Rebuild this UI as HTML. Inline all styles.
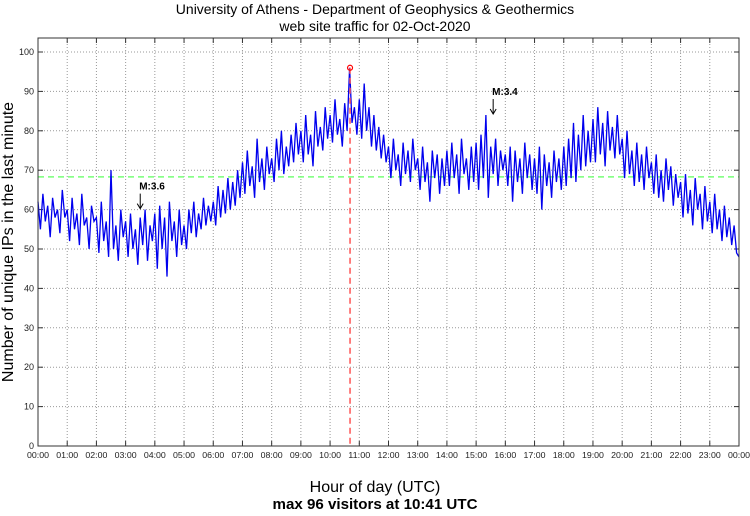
<!DOCTYPE html>
<html><head><meta charset="utf-8"><style>
body{margin:0;background:#fff;}
svg text{font-family:"Liberation Sans",sans-serif;}
</style></head><body>
<svg id="chart" width="750" height="511" xmlns="http://www.w3.org/2000/svg">
<text x="375" y="14" text-anchor="middle" font-size="14">University of Athens - Department of Geophysics &amp; Geothermics</text>
<text x="375" y="31" text-anchor="middle" font-size="14">web site traffic for 02-Oct-2020</text>
<text transform="translate(13,242) rotate(-90)" text-anchor="middle" font-size="16">Number of unique IPs in the last minute</text>
<text x="375" y="492" text-anchor="middle" font-size="16">Hour of day (UTC)</text>
<text x="375" y="509" text-anchor="middle" font-size="15" font-weight="bold" textLength="205" lengthAdjust="spacingAndGlyphs">max 96 visitors at 10:41 UTC</text>
<g id="grid"></g><g id="series"></g><g id="overlay"></g>
<rect x="38" y="38" width="701" height="408" fill="none" stroke="#333" stroke-width="1"/>
</svg>
<script>
const yTicks=[0,10,20,30,40,50,60,70,80,90,100];
const xTickLabels=["00:00","01:00","02:00","03:00","04:00","05:00","06:00","07:00","08:00","09:00","10:00","11:00","12:00","13:00","14:00","15:00","16:00","17:00","18:00","19:00","20:00","21:00","22:00","23:00","00:00"];
const visitors=[
62,55,64,57,61,53,63,58,60,54,65,58,
60,52,63,55,59,51,64,56,58,50,61,57,
58,49,62,52,57,48,70,50,56,47,60,53,
57,48,59,50,55,46,58,51,60,47,56,52,
59,45,61,50,58,43,62,52,57,48,60,51,
56,50,60,54,62,53,59,55,63,56,61,57,
62,56,66,58,65,59,68,60,67,61,70,63,
72,64,75,66,71,63,78,67,73,65,76,69,
73,67,78,70,80,69,76,71,79,72,82,74,
80,72,84,74,79,71,85,76,81,75,86,78,
84,77,88,79,83,76,87,80,96,82,86,79,
88,78,92,80,86,76,84,75,81,73,79,72,
76,68,78,70,74,66,77,69,75,67,78,70,
73,65,76,67,72,62,75,68,74,64,73,66,
75,66,77,68,74,64,78,69,73,65,76,67,
77,65,79,68,84,63,76,69,78,66,75,70,
74,66,76,62,75,67,73,64,77,68,74,65,
73,64,76,60,74,66,72,63,75,67,73,65,
76,66,78,68,82,67,79,70,84,71,80,72,
83,72,86,74,82,71,85,75,81,73,84,74,
78,68,80,69,75,66,77,67,74,65,76,68,
72,64,74,63,70,62,73,65,71,61,69,63,
67,58,69,59,65,56,68,60,64,55,66,57,
62,54,64,55,60,52,61,53,58,51,56,49,
48];
const stepMinutes=[5];
const average=[68.3];
const peak=[641,96];
const markers=[{label:"M:3.6",minute:210,value:60},{label:"M:3.4",minute:935,value:84}];
const NS="http://www.w3.org/2000/svg";
const X0=38,X1=739,Y0=446,PX=3.94;
function xs(m){return X0+(X1-X0)*m/1440;}
function ys(v){return Y0-v*PX;}
function mk(t,a,p){const e=document.createElementNS(NS,t);for(const k in a)e.setAttribute(k,a[k]);p.appendChild(e);return e;}
const grid=document.getElementById('grid'),series=document.getElementById('series'),ov=document.getElementById('overlay');
yTicks.forEach(v=>{
 const y=ys(v);
 if(v>0){const l=mk('line',{x1:X0,x2:X1,y1:y,y2:y,stroke:'#999','stroke-dasharray':'1,2','stroke-width':1},grid);
 
 }
 mk('line',{x1:X0,x2:X0+5,y1:y,y2:y,stroke:'#333'},grid);
 mk('line',{x1:X1-5,x2:X1,y1:y,y2:y,stroke:'#333'},grid);
 const t=mk('text',{x:X0-4,y:y+3,'text-anchor':'end','font-size':9,fill:'#222'},grid);t.textContent=v;
 
 
});
xTickLabels.forEach((s,i)=>{
 const x=xs(i*60);
 if(i>0&&i<24){const l=mk('line',{x1:x,x2:x,y1:38,y2:Y0,stroke:'#999','stroke-dasharray':'1,2'},grid);
 
 }
 mk('line',{x1:x,x2:x,y1:Y0-5,y2:Y0,stroke:'#333'},grid);
 mk('line',{x1:x,x2:x,y1:38,y2:43,stroke:'#333'},grid);
 const t=mk('text',{x:x,y:458,'text-anchor':'middle','font-size':8.5,fill:'#222',textLength:22,lengthAdjust:'spacingAndGlyphs'},grid);t.textContent=s;
 
 
});
const avg=mk('line',{x1:X0,x2:X1,y1:ys(average[0]),y2:ys(average[0]),stroke:'#7f7','stroke-width':1.5,'stroke-dasharray':'6,4'},series);


const pts=visitors.map((v,i)=>xs(i*stepMinutes[0]).toFixed(1)+','+ys(v).toFixed(1)).join(' ');
const pl=mk('polyline',{points:pts,fill:'none',stroke:'#0000ee','stroke-width':1.3},series);


const pv=mk('line',{x1:xs(peak[0]),x2:xs(peak[0]),y1:ys(peak[1]),y2:Y0,stroke:'#f55','stroke-width':1.5,'stroke-dasharray':'6,4'},ov);


const pc=mk('circle',{cx:xs(peak[0]),cy:ys(peak[1]),r:2.5,fill:'none',stroke:'#f00','stroke-width':1.2},ov);


markers.forEach(m=>{
 const x=xs(m.minute),y=ys(m.value);
 const g=mk('g',{},ov);
 
 
 mk('line',{x1:x,x2:x,y1:y-16,y2:y-2,stroke:'#000'},g);
 mk('path',{d:`M${x-3},${y-6} L${x},${y-1} L${x+3},${y-6}`,fill:'none',stroke:'#000'},g);
 const t=mk('text',{x:x-1,y:y-20,'font-size':10,'font-weight':'bold'},g);t.textContent=m.label;
});
</script>
</body></html>
